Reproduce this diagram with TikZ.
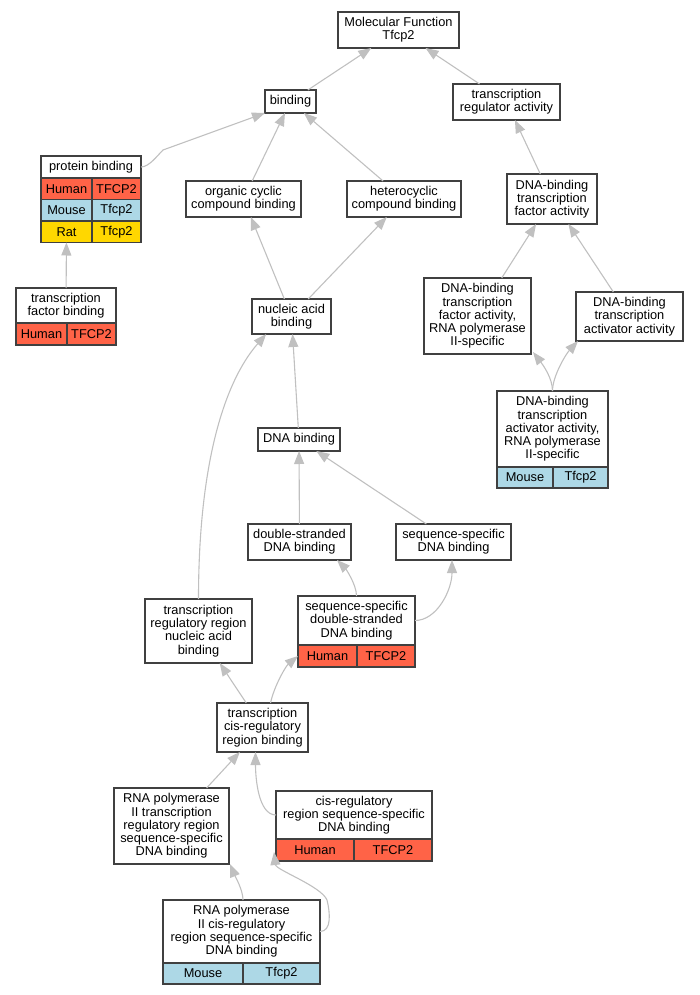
\documentclass[tikz,border=0pt]{standalone}
\usepackage{fontspec}
\setmainfont{Liberation Sans}
\usetikzlibrary{arrows.meta,calc}
\definecolor{human}{HTML}{FF6347}
\definecolor{mouse}{HTML}{ADD8E6}
\definecolor{rat}{HTML}{FFD700}
\definecolor{edgegray}{HTML}{C0C0C0}
\definecolor{boxline}{HTML}{404040}
\tikzset{
  term/.style={draw=boxline, line width=1.4pt, fill=white, inner sep=0pt,
    outer sep=0pt, align=center, font=\fontsize{12.8}{13.3}\selectfont},
  cell/.style={term, anchor=north west},
  isa/.style={draw=edgegray, line width=1.1pt, -{Triangle[length=13pt,width=10pt]}},
}
\begin{document}
\begin{tikzpicture}[x=1pt, y=-1pt]
      \useasboundingbox (0,0) rectangle (699,995);
      %
      % terms, top to bottom
      \node[term, minimum width=121pt, minimum height=36pt] (mf) at (398.5,30) {Molecular Function\\Tfcp2};
      \node[term, minimum width=51pt, minimum height=23pt] (bind) at (290.5,101.5) {binding};
      \node[term, minimum width=107pt, minimum height=36pt] (treg) at (506.5,102) {transcription\\regulator activity};
      \node[term, minimum width=100pt, minimum height=22pt] (pb) at (91,167) {protein binding};
      \node[term, minimum width=115pt, minimum height=36pt] (org) at (243.5,199) {organic cyclic\\compound binding};
      \node[term, minimum width=114pt, minimum height=36pt] (het) at (404,199) {heterocyclic\\compound binding};
      \node[term, minimum width=90pt, minimum height=50pt] (dbtf) at (552,199) {DNA-binding\\transcription\\factor activity};
      \node[term, minimum width=100pt, minimum height=35pt] (tfb) at (66,305.5) {transcription\\factor binding};
      \node[term, minimum width=79pt, minimum height=35pt] (nuc) at (291.5,316.5) {nucleic acid\\binding};
      \node[term, minimum width=107pt, minimum height=76pt] (dbtf2) at (477.5,316) {DNA-binding\\transcription\\factor activity,\\RNA polymerase\\II-specific};
      \node[term, minimum width=107pt, minimum height=49pt] (dbta) at (629.5,316.5) {DNA-binding\\transcription\\activator activity};
      \node[term, minimum width=111pt, minimum height=76pt] (dbta2) at (552.5,429) {DNA-binding\\transcription\\activator activity,\\RNA polymerase\\II-specific};
      \node[term, minimum width=82pt, minimum height=23pt] (dnab) at (299,439.5) {DNA binding};
      \node[term, minimum width=103pt, minimum height=36pt] (dsdna) at (299.5,542) {double-stranded\\DNA binding};
      \node[term, minimum width=115pt, minimum height=36pt] (ssdna) at (453.5,542) {sequence-specific\\DNA binding};
      \node[term, minimum width=107pt, minimum height=64pt] (trr) at (198.5,631) {transcription\\regulatory region\\nucleic acid\\binding};
      \node[term, minimum width=117pt, minimum height=49pt] (ssds) at (356.5,620.5) {sequence-specific\\double-stranded\\DNA binding};
      \node[term, minimum width=91pt, minimum height=49pt] (tcrb) at (262.5,727.5) {transcription\\cis-regulatory\\region binding};
      \node[term, minimum width=115pt, minimum height=76pt] (rnap2trr) at (171.5,826) {RNA polymerase\\II transcription\\regulatory region\\sequence-specific\\DNA binding};
      \node[term, minimum width=156pt, minimum height=48pt] (crss) at (354,815) {cis-regulatory\\region sequence-specific\\DNA binding};
      \node[term, minimum width=157pt, minimum height=63pt] (rnap2cr) at (241.5,931.5) {RNA polymerase\\II cis-regulatory\\region sequence-specific\\DNA binding};
      %
      % gene tables under the annotated terms
      \node[cell, fill=human, minimum width=51pt, minimum height=21.5pt] (pbh1) at (pb.south west) {Human};
      \node[cell, fill=human, minimum width=49pt, minimum height=21.5pt] (pbh2) at (pbh1.north east) {TFCP2};
      \node[cell, fill=mouse, minimum width=51pt, minimum height=21.5pt] (pbm1) at (pbh1.south west) {Mouse};
      \node[cell, fill=mouse, minimum width=49pt, minimum height=21.5pt] (pbm2) at (pbm1.north east) {Tfcp2};
      \node[cell, fill=rat, minimum width=51pt, minimum height=21.5pt] (pbr1) at (pbm1.south west) {Rat};
      \node[cell, fill=rat, minimum width=49pt, minimum height=21.5pt] (pbr2) at (pbr1.north east) {Tfcp2};
      %
      \node[cell, fill=human, minimum width=51pt, minimum height=22pt] (tfbh1) at (tfb.south west) {Human};
      \node[cell, fill=human, minimum width=49pt, minimum height=22pt] (tfbh2) at (tfbh1.north east) {TFCP2};
      %
      \node[cell, fill=mouse, minimum width=56pt, minimum height=21pt] (dbta2m1) at (dbta2.south west) {Mouse};
      \node[cell, fill=mouse, minimum width=55pt, minimum height=21pt] (dbta2m2) at (dbta2m1.north east) {Tfcp2};
      %
      \node[cell, fill=human, minimum width=59pt, minimum height=22pt] (ssdsh1) at (ssds.south west) {Human};
      \node[cell, fill=human, minimum width=58pt, minimum height=22pt] (ssdsh2) at (ssdsh1.north east) {TFCP2};
      %
      \node[cell, fill=human, minimum width=78pt, minimum height=22pt] (crssh1) at (crss.south west) {Human};
      \node[cell, fill=human, minimum width=78pt, minimum height=22pt] (crssh2) at (crssh1.north east) {TFCP2};
      %
      \node[cell, fill=mouse, minimum width=80pt, minimum height=21pt] (rnap2crm1) at (rnap2cr.south west) {Mouse};
      \node[cell, fill=mouse, minimum width=77pt, minimum height=21pt] (rnap2crm2) at (rnap2crm1.north east) {Tfcp2};
      %
      % is-a edges, child to parent
      \coordinate (pbk) at (163,150);
      \coordinate (crk) at (327,900);
      \draw[isa] (bind) -- (mf);
      \draw[isa] (treg) -- (mf);
      \draw[isa] (pb.east) .. controls +(8,0) and +(-6,6) .. (pbk) -- (bind.south west);
      \draw[isa] (org) -- (bind);
      \draw[isa] (het) -- (bind);
      \draw[isa] (dbtf) -- (treg);
      \draw[isa] (tfb) -- (pbr1);
      \draw[isa] (nuc) -- (org);
      \draw[isa] (nuc) -- (het);
      \draw[isa] (dbtf2) -- (dbtf);
      \draw[isa] (dbta) -- (dbtf);
      \draw[isa] (dbta2.north) .. controls +(0,-13) and +(10,13) .. ($(dbtf2.south east)+(2,-2)$);
      \draw[isa] (dbta2.north) .. controls +(0,-15) and +(-12,13) .. ($(dbta.south west)+(2,0)$);
      \draw[isa] (dnab) -- (nuc);
      \draw[isa] (trr.north) .. controls +(0,-135) and +(-42,48) .. ($(nuc.south west)!0.18!(nuc.south east)$);
      \draw[isa] (dsdna) -- (dnab);
      \draw[isa] (ssdna) -- (dnab);
      \draw[isa] (ssds.north) .. controls +(0,-12) and +(8,8) .. ($(dsdna.south east)+(-14,0)$);
      \draw[isa] (ssds.east) .. controls +(22,0) and +(0,30) .. ($(ssdna.south)+(-1.5,0)$);
      \draw[isa] (tcrb) -- (trr);
      \draw[isa] ($(tcrb.north)+(8,0)$) .. controls +(4,-18) and +(-12,10) .. (ssdsh1.west);
      \draw[isa] (rnap2trr) -- (tcrb);
      \draw[isa] (crss.west) .. controls +(-18,0) and +(0,25) .. ($(tcrb.south)+(-7,0)$);
      \draw[isa] ($(rnap2cr.north)+(1.5,0)$) .. controls +(0,-10) and +(5,12) .. ($(rnap2trr.south east)+(1,0)$);
      \draw[isa] (rnap2cr.east) .. controls +(12,0) and +(3,12) .. (crk)
                 .. controls +(-6,-14) and +(2,18) .. ($(crssh1.south west)+(-2,-9)$);
      %
    \end{tikzpicture}
\end{document}
